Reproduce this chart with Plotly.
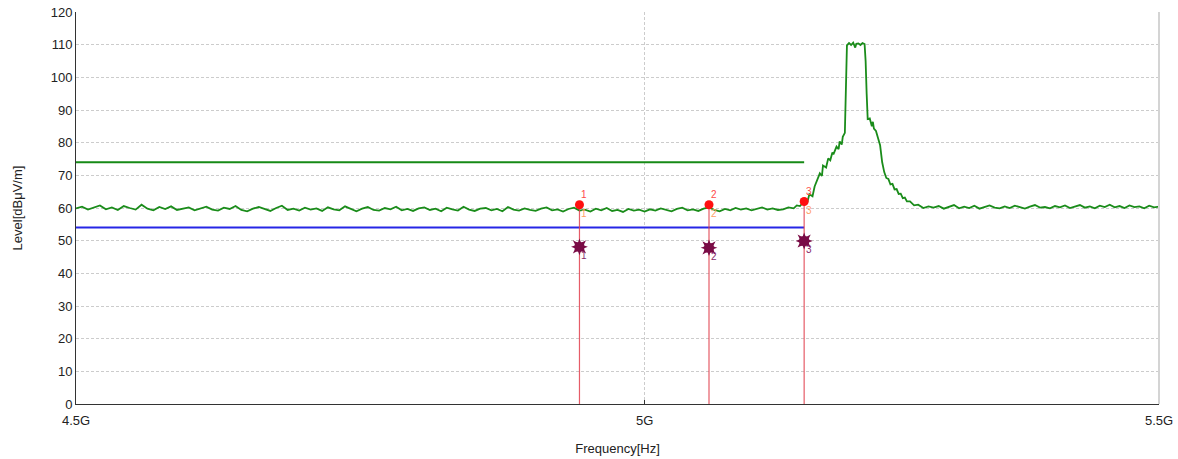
import plotly.graph_objects as go
import math

# ---------------- data (frequencies in MHz, levels in dBuV/m) ----------------
left_freq = list(range(4500, 5130, 5))
left_level = [
    59.9, 60.4, 59.5, 60.1, 60.8, 59.6, 60.2, 59.4, 60.6, 60.0, 59.5, 61.0, 59.8, 59.3, 60.3, 59.7, 60.5, 59.4, 59.9, 60.2,
    59.3, 59.9, 60.4, 59.5, 59.2, 60.1, 59.7, 60.6, 59.4, 59.0, 59.8, 60.3, 59.6, 59.1, 60.0, 60.7, 59.4, 59.8, 59.2, 60.1,
    59.5, 59.9, 59.1, 60.2, 59.6, 59.3, 60.5, 59.7, 59.0, 59.8, 60.3, 59.4, 59.2, 60.0, 59.6, 60.4, 59.3, 59.7, 59.1, 59.9,
    60.2, 59.4, 59.8, 59.0, 60.1, 59.6, 59.2, 60.4, 59.5, 59.1, 59.8, 60.0, 59.3, 59.7, 59.0, 60.3, 59.5, 59.2, 59.9, 59.4,
    59.1, 59.8, 60.2, 59.3, 59.6, 58.9, 59.7, 60.1, 59.2, 59.5, 58.9, 59.8, 59.3, 60.0, 59.1, 59.4, 58.8, 59.7, 59.2, 59.5,
    58.9, 59.6, 59.2, 59.9, 59.4, 59.0, 59.7, 60.1, 59.3, 59.6, 59.1, 59.8, 60.2, 59.4, 59.0, 59.7, 59.3, 60.0, 59.5, 59.9,
    59.3, 59.8, 60.2, 59.5, 59.9, 59.4,
]

band_freq = [5130, 5135, 5140, 5143, 5146, 5150, 5153, 5155, 5158, 5160, 5162, 5165, 5167, 5168, 5171, 5173, 5175,
             5177, 5178, 5181, 5183, 5184, 5186, 5187, 5189, 5190, 5191, 5193, 5195, 5197, 5199, 5200, 5202,
             5204, 5206, 5208, 5209, 5210, 5211, 5213, 5215, 5216, 5217, 5219, 5221, 5223, 5225, 5227, 5229,
             5231, 5233, 5235, 5237, 5239, 5241, 5243, 5245, 5247, 5249, 5252, 5256, 5260, 5265, 5270]
band_level = [59.6, 60.2, 59.9, 60.8, 60.6, 62.0, 61.8, 64.2, 63.6, 66.6, 68.2, 70.6, 69.8, 73.0, 72.4, 75.2, 74.6,
              77.0, 76.4, 78.8, 78.0, 80.4, 79.4, 81.8, 83.0, 95.0, 109.8, 110.5, 109.9, 110.6, 109.1, 110.3, 110.4,
              109.9, 110.5, 110.2, 105.0, 95.0, 87.2, 87.4, 85.0, 86.4, 84.3, 83.6, 80.9, 79.2, 74.0, 71.0, 69.2,
              68.9, 67.2, 67.4, 65.7, 65.8, 64.3, 64.4, 63.0, 63.2, 62.0, 62.0, 60.8, 61.0, 60.0, 60.5]

right_freq = list(range(5275, 5505, 5))
right_level = [
    60.1, 60.6, 59.8, 60.3, 60.9, 59.9, 60.4, 60.0, 60.7, 59.8, 60.2, 60.8, 60.1, 59.9, 60.5, 60.0, 60.7, 60.2, 59.8, 60.4,
    60.9, 60.1, 60.3, 59.9, 60.6, 60.2, 60.8, 60.0, 60.4, 60.9, 60.1, 60.5, 59.9, 60.7, 60.3, 61.0, 60.2, 60.6, 60.0, 60.8,
    60.3, 60.5, 59.9, 60.7, 60.2, 60.4,
]

limit_freq = [4500, 5150]
peak_limit = [74, 74]
avg_limit = [54, 54]

marker_freq = [4940, 5060, 5150]
marker_peak = [61.0, 61.0, 62.0]
marker_avg = [48.1, 47.8, 49.9]
marker_label = ["1", "2", "3"]

x_ticks = [4500, 5000, 5500]
x_tick_text = ["4.5G", "5G", "5.5G"]
y_ticks = list(range(0, 130, 10))

# ---------------- figure ----------------
hz = lambda seq: [v * 1e6 for v in seq]

fig = go.Figure()

trace_freq = left_freq + band_freq + right_freq
trace_level = left_level + band_level + right_level
fig.add_trace(go.Scatter(x=hz(trace_freq), y=trace_level, mode="lines",
                         line=dict(color="#1a8c1a", width=1.8), hoverinfo="skip"))

fig.add_trace(go.Scatter(x=hz(limit_freq), y=peak_limit, mode="lines",
                         line=dict(color="#168a16", width=2)))
fig.add_trace(go.Scatter(x=hz(limit_freq), y=avg_limit, mode="lines",
                         line=dict(color="#2626e6", width=2)))

# vertical marker lines
for f, p in zip(marker_freq, marker_peak):
    fig.add_trace(go.Scatter(x=hz([f, f]), y=[0, p], mode="lines",
                             line=dict(color="#e2404e", width=1.2), opacity=0.85))

# average markers (burst stars)
for sym in ["star-square", "star-diamond"]:
    fig.add_trace(go.Scatter(x=hz(marker_freq), y=marker_avg, mode="markers",
                             marker=dict(symbol=sym, size=12, color="#7a0c46",
                                         line=dict(width=0))))
# peak markers
fig.add_trace(go.Scatter(x=hz(marker_freq), y=marker_peak, mode="markers",
                         marker=dict(symbol="circle", size=9, color="#ff1010",
                                     line=dict(width=0))))

for f, p, a, lab in zip(marker_freq, marker_peak, marker_avg, marker_label):
    fig.add_annotation(x=math.log10(f * 1e6), y=p, text=lab, showarrow=False,
                       xshift=5, yshift=10, font=dict(color="#ff4a4a", size=10, family="Liberation Sans"))
    fig.add_annotation(x=math.log10(f * 1e6), y=p, text=lab, showarrow=False,
                       xshift=5, yshift=-9, font=dict(color="#ffa066", size=10, family="Liberation Sans"))
    fig.add_annotation(x=math.log10(f * 1e6), y=a, text=lab, showarrow=False,
                       xshift=5, yshift=-9, font=dict(color="#8a2a6a", size=10, family="Liberation Sans"))

# right border
fig.add_shape(type="line", xref="paper", yref="paper", x0=1, x1=1, y0=0, y1=1,
              line=dict(color="#d4d4d4", width=2))

fig.update_layout(
    width=1178, height=459,
    margin=dict(l=76, r=19, t=12, b=55),
    paper_bgcolor="white", plot_bgcolor="white",
    showlegend=False,
    font=dict(family="Liberation Sans", size=13, color="#222222"),
    xaxis=dict(type="log", range=[math.log10(4.5e9), math.log10(5.5e9)],
               tickvals=hz(x_ticks), ticktext=x_tick_text, automargin=False,
               showgrid=True, gridcolor="#cccccc", griddash="3px,2px", gridwidth=1,
               showline=True, linecolor="#333333", linewidth=1,
               ticks="inside", ticklen=4, tickcolor="#333333",
               ticklabelstandoff=4,
               zeroline=False,
               title=dict(text="Frequency[Hz]", font=dict(size=13), standoff=17),
               tickfont=dict(size=13)),
    yaxis=dict(range=[0, 120], tickvals=y_ticks, automargin=False,
               showgrid=True, gridcolor="#cccccc", griddash="3px,2px", gridwidth=1,
               showline=True, linecolor="#333333", linewidth=1,
               zeroline=False, ticks="",
               title=dict(text="Level[dBμV/m]", font=dict(size=13), standoff=25),
               tickfont=dict(size=13)),
)

fig.write_html("out.html", config={"displayModeBar": False},
               post_script="document.body.style.margin='0';document.body.style.padding='0';")
